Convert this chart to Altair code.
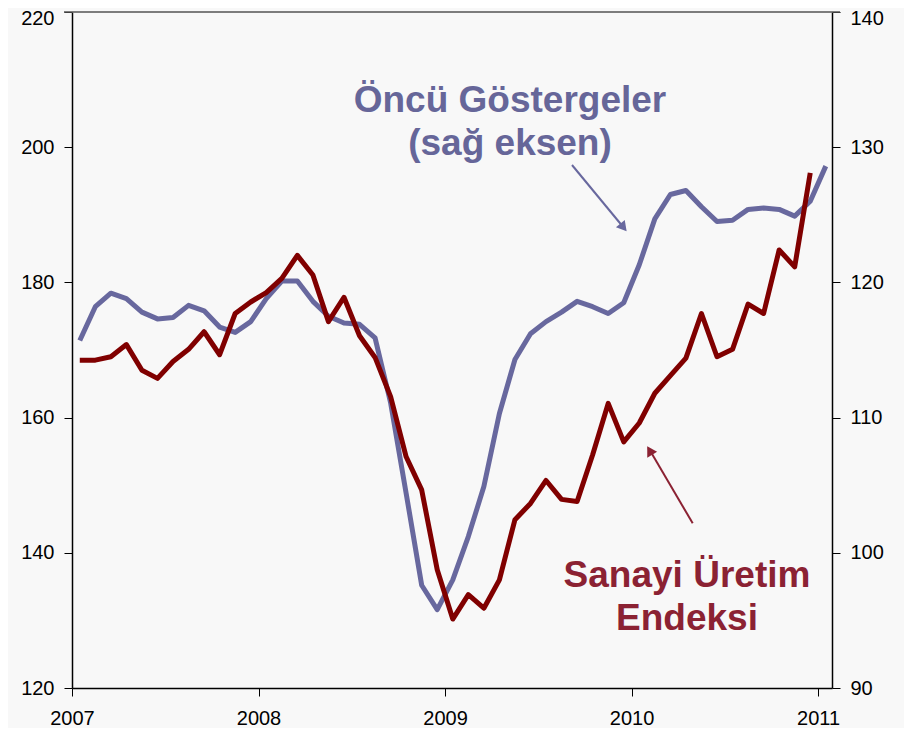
import altair as alt
import pandas as pd

# ---- data ----
years = [2007, 2008, 2009, 2010, 2011]

# Sanayi Üretim Endeksi (left axis), monthly Jan 2007 - Dec 2010
sanayi = [
    168.5, 168.5, 169.0, 170.8, 167.0, 165.8, 168.3, 170.1, 172.7, 169.3, 175.4, 177.1,
    178.5, 180.6, 184.0, 181.1, 174.2, 177.8, 172.1, 168.9, 163.1, 154.2, 149.3, 137.5,
    130.2, 133.8, 131.8, 136.0, 144.9, 147.3, 150.7, 147.9, 147.6, 154.5, 162.1, 156.4,
    159.2, 163.6, 166.2, 168.8, 175.4, 169.0, 170.1, 176.8, 175.4, 184.8, 182.3, 196.2,
]

# Öncü Göstergeler (right axis), monthly Jan 2007 - Jan 2011
oncu = [
    115.7, 118.2, 119.2, 118.8, 117.8, 117.3, 117.4, 118.3, 117.9, 116.7, 116.3, 117.1,
    118.8, 120.1, 120.1, 118.6, 117.5, 117.0, 116.9, 115.9, 111.1, 104.4, 97.6, 95.8,
    98.0, 101.2, 104.9, 110.3, 114.3, 116.2, 117.1, 117.8, 118.6, 118.2, 117.7, 118.5,
    121.3, 124.7, 126.5, 126.8, 125.6, 124.5, 124.6, 125.4, 125.5, 125.4, 124.9, 126.0,
    128.6,
]

left_ticks = [120, 140, 160, 180, 200, 220]
right_ticks = [90, 100, 110, 120, 130, 140]

def month_pos(i):
    return 2007 + (i + 0.5) / 12.0

df_red = pd.DataFrame({"t": [month_pos(i) for i in range(len(sanayi))], "v": sanayi})
df_blue = pd.DataFrame({"t": [month_pos(i) for i in range(len(oncu))], "v": oncu})

BLUE = "#68689E"
BLUE_TXT = "#666699"
RED = "#800000"
RED_TXT = "#8B2233"
FONT = "Liberation Sans"

xscale = alt.Scale(domain=[2007, 2011.075], nice=False, zero=False)
xaxis = alt.Axis(values=years, format="d", title=None, grid=False, domainColor="black",
                 tickColor="black", tickSize=8, labelPadding=12, labelFontSize=20,
                 labelFont=FONT, labelColor="black", domainWidth=1.5, labelFlush=False)

blue = alt.Chart(df_blue).mark_line(color=BLUE, strokeWidth=5, strokeJoin="round").encode(
    x=alt.X("t:Q", scale=xscale, axis=xaxis),
    y=alt.Y("v:Q", scale=alt.Scale(domain=[90, 140], nice=False, zero=False),
            axis=alt.Axis(orient="right", values=right_ticks, title=None, grid=False,
                          domainColor="black", tickColor="black", tickSize=8,
                          labelPadding=10, labelFontSize=20, labelFont=FONT,
                          labelColor="black", domainWidth=1.5, labelFlush=False,
                          labelOffset={"condition": {"test": "datum.value == 140", "value": 6},
                                       "value": 0})),
)

red = alt.Chart(df_red).mark_line(color=RED, strokeWidth=5, strokeJoin="round").encode(
    x=alt.X("t:Q", scale=xscale, axis=xaxis),
    y=alt.Y("v:Q", scale=alt.Scale(domain=[120, 220], nice=False, zero=False),
            axis=alt.Axis(orient="left", values=left_ticks, title=None, grid=False,
                          domainColor="black", tickColor="black", tickSize=8,
                          labelPadding=10, labelFontSize=20, labelFont=FONT,
                          labelColor="black", domainWidth=1.5, labelFlush=False,
                          labelOffset={"condition": {"test": "datum.value == 220", "value": 6},
                                       "value": 0})),
)

one = pd.DataFrame({"a": [0]})

top_line = alt.Chart(one).mark_rule(color="#555555", strokeWidth=1.5).encode(
    x=alt.value(-8), x2=alt.value(768), y=alt.value(0)
)

def label(text, x, y, color):
    return alt.Chart(one).mark_text(text=text, font=FONT, fontSize=37, fontWeight="bold",
                                    color=color, align="center", baseline="alphabetic").encode(
        x=alt.value(x), y=alt.value(y))

t1 = label("Öncü Göstergeler", 438, 100, BLUE_TXT)
t2 = label("(sağ eksen)", 438, 143, BLUE_TXT)
t3 = label("Sanayi Üretim", 615, 575, RED_TXT)
t4 = label("Endeksi", 615, 618, RED_TXT)

arrow_b = alt.Chart(one).mark_rule(color=BLUE, strokeWidth=2).encode(
    x=alt.value(500), y=alt.value(153), x2=alt.value(552), y2=alt.value(216))
head_b = alt.Chart(one).mark_point(shape="triangle-up", filled=True, opacity=1, color=BLUE,
                                   size=130, angle=140.5).encode(
    x=alt.value(551.5), y=alt.value(215.5))

arrow_r = alt.Chart(one).mark_rule(color=RED_TXT, strokeWidth=2).encode(
    x=alt.value(620.7), y=alt.value(511.3), x2=alt.value(578), y2=alt.value(438.5))
head_r = alt.Chart(one).mark_point(shape="triangle-up", filled=True, opacity=1, color=RED_TXT,
                                   size=130, angle=329.6).encode(
    x=alt.value(577.7), y=alt.value(438.5))

chart = alt.layer(
    top_line, blue, red, t1, t2, t3, t4, arrow_b, head_b, arrow_r, head_r
).resolve_scale(y="independent").properties(
    width=760, height=676,
    padding={"left": 64, "top": 4, "right": 72, "bottom": 40},
    autosize=alt.AutoSizeParams(type="none"),
).configure(background="#f8f8f8").configure_view(stroke=None)

chart.save("out.html", embed_options={"renderer": "svg", "actions": False})
